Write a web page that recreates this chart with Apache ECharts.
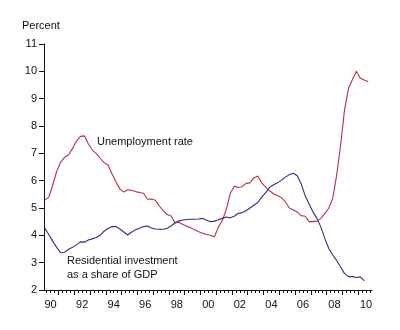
<!DOCTYPE html>
<html>
<head>
<meta charset="utf-8">
<script src="https://cdn.jsdelivr.net/npm/echarts@6/dist/echarts.min.js"></script>
<style>
html,body{margin:0;padding:0;background:#fff;}
#chart{width:400px;height:330px;}
</style>
</head>
<body>
<div id="chart"></div>
<script>
// Quarterly observations, first quarter 1990 onward (decimal-year positions)
var startYear = 1990.14;
var step = 0.25;

var unemploymentRate = [
  5.29, 5.40, 5.85, 6.35, 6.68, 6.86, 6.95, 7.18, 7.45, 7.62,
  7.64, 7.35, 7.12, 7.00, 6.82, 6.66, 6.57, 6.25, 5.96, 5.70,
  5.58, 5.67, 5.65, 5.60, 5.57, 5.54, 5.32, 5.33, 5.28, 5.08,
  4.90, 4.76, 4.71, 4.45, 4.48, 4.40, 4.33, 4.28, 4.20, 4.13,
  4.08, 4.03, 4.00, 3.95, 4.30, 4.55, 4.95, 5.52, 5.80, 5.75,
  5.78, 5.90, 5.92, 6.10, 6.17, 5.92, 5.76, 5.62, 5.52, 5.45,
  5.38, 5.22, 5.00, 4.93, 4.85, 4.72, 4.70, 4.50, 4.50, 4.52,
  4.62, 4.80, 5.00, 5.35, 6.20, 7.30, 8.60, 9.38, 9.70, 10.00,
  9.75, 9.68, 9.62
];

var residentialShare = [
  4.26, 4.02, 3.78, 3.55, 3.37, 3.38, 3.49, 3.56, 3.65, 3.76,
  3.75, 3.83, 3.87, 3.92, 4.00, 4.15, 4.25, 4.32, 4.32, 4.23,
  4.12, 4.01, 4.12, 4.20, 4.26, 4.32, 4.34, 4.27, 4.23, 4.22,
  4.22, 4.26, 4.34, 4.46, 4.53, 4.56, 4.58, 4.59, 4.59, 4.60,
  4.62, 4.55, 4.50, 4.52, 4.57, 4.62, 4.67, 4.64, 4.70, 4.80,
  4.83, 4.90, 5.00, 5.10, 5.20, 5.40, 5.56, 5.76, 5.85, 5.92,
  6.02, 6.13, 6.22, 6.27, 6.18, 5.88, 5.45, 5.15, 4.85, 4.62,
  4.30, 3.88, 3.52, 3.28, 3.08, 2.84, 2.60, 2.49, 2.49, 2.46,
  2.48, 2.33
];

var labelYears = [1990, 1992, 1994, 1996, 1998, 2000, 2002, 2004, 2006, 2008, 2010];
var tickLabels = ['90', '92', '94', '96', '98', '00', '02', '04', '06', '08', '10'];
var yTicks = [2, 3, 4, 5, 6, 7, 8, 9, 10, 11];

var seriesUnemp = unemploymentRate.map(function (v, i) { return [startYear + i * step, v]; });
var seriesResid = residentialShare.map(function (v, i) { return [startYear + i * step, v]; });

var xMin = 1990.08, xMax = 2010.88;
var quarterTicks = [];
for (var q = 1990.25; q < xMax; q += 0.25) quarterTicks.push(Math.round(q * 100) / 100);
var yearTicks = [];
for (var y = 1991; y <= 2010; y++) yearTicks.push(y);
var labelPos = labelYears.map(function (y) { return y + 0.5; });

var FONT = '"Liberation Sans", Arial, sans-serif';
var chart = echarts.init(document.getElementById('chart'), null, { renderer: 'canvas' });
chart.setOption({
  animation: false,
  backgroundColor: '#ffffff',
  grid: { left: 44, right: 28, top: 44, bottom: 40, containLabel: false },
  xAxis: [{
    type: 'value', min: xMin, max: xMax,
    axisLine: { show: true, lineStyle: { color: '#111', width: 1 } },
    axisTick: { show: true, length: 3, customValues: quarterTicks, lineStyle: { color: '#111' } },
    axisLabel: {
      show: true, customValues: labelPos, margin: 9,
      fontSize: 11, fontFamily: FONT, color: '#111',
      formatter: function (v) {
        var idx = -1;
        for (var k = 0; k < labelPos.length; k++) if (Math.abs(labelPos[k] - v) < 1e-6) idx = k;
        return idx >= 0 ? tickLabels[idx] : '';
      }
    },
    splitLine: { show: false }
  }, {
    type: 'value', min: xMin, max: xMax, position: 'bottom',
    axisLine: { show: false },
    axisTick: { show: true, length: 5, customValues: yearTicks, lineStyle: { color: '#111' } },
    axisLabel: { show: false },
    splitLine: { show: false }
  }],
  yAxis: {
    type: 'value', min: 2, max: 11, interval: 1,
    axisLine: { show: true, lineStyle: { color: '#111', width: 1 } },
    axisTick: { show: true, length: 5, lineStyle: { color: '#111' } },
    axisLabel: {
      fontSize: 11, fontFamily: FONT, color: '#111', margin: 7,
      formatter: function (v) { return yTicks.indexOf(v) >= 0 ? String(v) : ''; }
    },
    splitLine: { show: false }
  },
  series: [{
    name: 'Unemployment rate', type: 'line', data: seriesUnemp,
    showSymbol: false, symbol: 'none',
    lineStyle: { color: '#bb3040', width: 1.1 }, z: 3
  }, {
    name: 'Residential investment as a share of GDP', type: 'line', data: seriesResid,
    showSymbol: false, symbol: 'none',
    lineStyle: { color: '#2e2e8e', width: 1.1 }, z: 4
  }],
  graphic: [
    { type: 'text', left: 22, top: 20, style: { text: 'Percent', font: '11px ' + FONT, fill: '#111' } },
    { type: 'text', left: 97, top: 136, style: { text: 'Unemployment rate', font: '11px ' + FONT, fill: '#111' } },
    { type: 'text', left: 67, top: 254, style: { text: 'Residential investment\nas a share of GDP', font: '11px ' + FONT, fill: '#111', lineHeight: 14 } }
  ]
});
</script>
</body>
</html>
